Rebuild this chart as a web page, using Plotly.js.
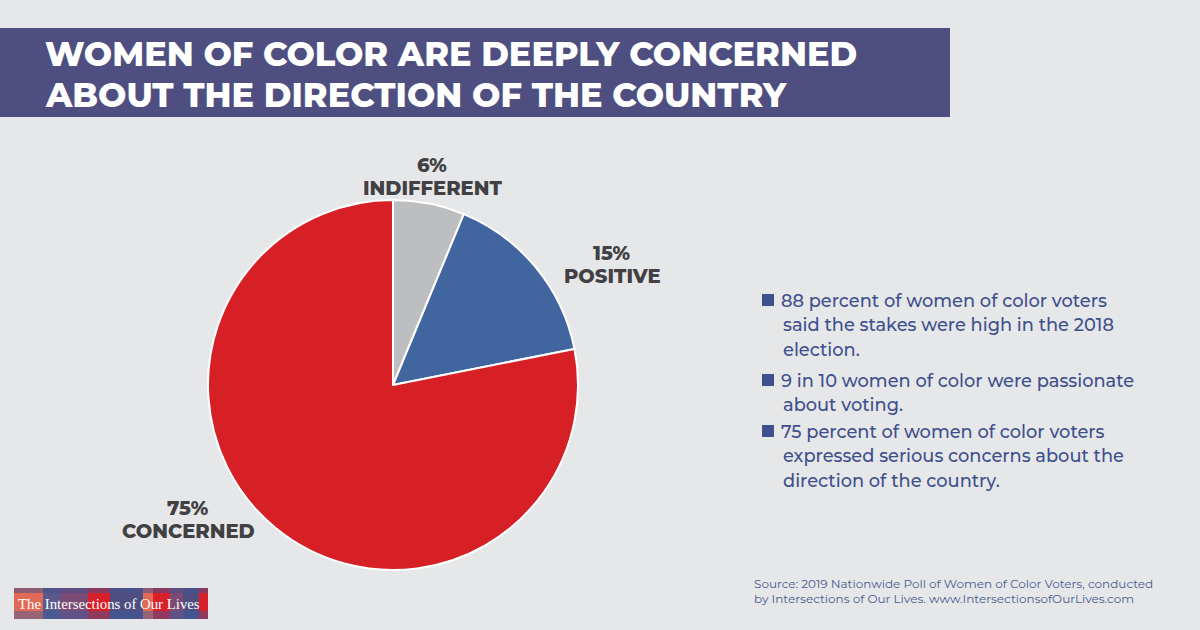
<!DOCTYPE html>
<html>
<head>
<meta charset="utf-8">
<script src="https://cdn.plot.ly/plotly-3.0.1.min.js"></script>
<style>
html,body{margin:0;padding:0;background:#e6e7e8;}
#chart{width:1200px;height:630px;}
</style>
</head>
<body>
<div id="chart"></div>
<script>
const categories = ["INDIFFERENT", "POSITIVE", "CONCERNED"];
const values = [6, 15, 75];
const sliceColors = ["#bcbec0", "#41669f", "#d71f26"];
const titleLines = ["WOMEN OF COLOR ARE DEEPLY CONCERNED", "ABOUT THE DIRECTION OF THE COUNTRY"];
const bullets = [
  ["88 percent of women of color voters", "said the stakes were high in the 2018", "election."],
  ["9 in 10 women of color were passionate", "about voting."],
  ["75 percent of women of color voters", "expressed serious concerns about the", "direction of the country."]
];
const sourceLines = ["Source: 2019 Nationwide Poll of Women of Color Voters, conducted", "by Intersections of Our Lives. www.IntersectionsofOurLives.com"];
const logoText = "The Intersections of Our Lives";

const W = 1200, H = 630;
const px = x => x / W;
const py = y => 1 - y / H;

const trace = {
  type: "pie",
  labels: categories,
  values: values,
  sort: false,
  direction: "clockwise",
  rotation: 0,
  textinfo: "none",
  hoverinfo: "label+percent",
  marker: {colors: sliceColors, line: {color: "#ffffff", width: 2}},
  domain: {x: [px(208), px(578)], y: [py(570), py(200)]},
  showlegend: false
};

const labelFont = {family: "Montserrat, Lato, 'Open Sans', sans-serif", size: 19.5, color: "#414042", weight: 800};
// [x center, y of percent line, y of category line]
const labelPos = [[432, 165, 188], [612, 253, 276], [188, 508, 531]];
const annotations = [];
categories.forEach((c, i) => {
  annotations.push({
    xref: "paper", yref: "paper", x: px(labelPos[i][0]), y: py(labelPos[i][1]),
    text: values[i] + "%", showarrow: false, xanchor: "center", yanchor: "middle", font: labelFont, borderpad: 0
  });
  annotations.push({
    xref: "paper", yref: "paper", x: px(labelPos[i][0]), y: py(labelPos[i][2]),
    text: c, showarrow: false, xanchor: "center", yanchor: "middle", font: labelFont, borderpad: 0
  });
});

// title
const titleY = [54, 95];
titleLines.forEach((t, j) => {
  annotations.push({
    xref: "paper", yref: "paper", x: px(44), y: py(titleY[j]),
    text: t, showarrow: false, align: "left",
    xanchor: "left", yanchor: "middle", borderpad: 0,
    font: {family: "Montserrat, Lato, sans-serif", size: 33.5, color: "#ffffff", weight: 800}
  });
});

// bullets
const bulletStarts = [300, 380, 431];
const lineGap = 24.8;
const shapes = [
  {type: "rect", xref: "paper", yref: "paper", x0: 0, x1: px(950), y0: py(117), y1: py(28), fillcolor: "#4e4f80", line: {width: 0}, layer: "below"}
];
bullets.forEach((b, i) => {
  const y0 = bulletStarts[i];
  shapes.push({type: "rect", xref: "paper", yref: "paper", x0: px(762), x1: px(774), y0: py(y0 + 6), y1: py(y0 - 6), fillcolor: "#3e4f8e", line: {width: 0}});
  b.forEach((line, j) => {
    annotations.push({
      xref: "paper", yref: "paper", x: px(j === 0 ? 780 : 782), y: py(y0 + j * lineGap),
      text: line, showarrow: false, xanchor: "left", yanchor: "middle", align: "left", borderpad: 0,
      font: {family: "Montserrat, 'DejaVu Sans', sans-serif", size: 17.8, color: "#3e4f8e", weight: 500}
    });
  });
});

// source
sourceLines.forEach((s, j) => {
  annotations.push({
    xref: "paper", yref: "paper", x: px(753), y: py(583 + j * 15), borderpad: 0,
    text: s, showarrow: false, xanchor: "left", yanchor: "middle",
    font: {family: "Montserrat, 'DejaVu Sans', sans-serif", size: 12, color: "#4a5a92"}
  });
});

// logo blocks
const logoBlocks = [
  [14, 43, "#e06a56"], [43, 60, "#5a5a8a"], [60, 88, "#7a4b74"], [88, 110, "#d7202a"],
  [110, 143, "#4e4f80"], [143, 153, "#e06a56"], [153, 170, "#d7202a"], [170, 183, "#7a4b74"],
  [183, 199, "#4e4f80"], [199, 208, "#d7202a"]
];
logoBlocks.forEach(b => {
  shapes.push({type: "rect", xref: "paper", yref: "paper", x0: px(b[0]), x1: px(b[1]), y0: py(619), y1: py(588), fillcolor: b[2], line: {width: 0}});
});
shapes.push({type: "rect", xref: "paper", yref: "paper", x0: px(14), x1: px(208), y0: py(593), y1: py(588), fillcolor: "rgba(70,80,140,0.55)", line: {width: 0}});
shapes.push({type: "rect", xref: "paper", yref: "paper", x0: px(14), x1: px(208), y0: py(619), y1: py(611), fillcolor: "rgba(60,90,160,0.45)", line: {width: 0}});
annotations.push({
  xref: "paper", yref: "paper", x: px(17), y: py(604), borderpad: 0,
  text: logoText, showarrow: false, xanchor: "left", yanchor: "middle",
  font: {family: "'Liberation Serif', 'DejaVu Serif', serif", size: 14.8, color: "#ffffff"}
});

const layout = {
  width: W, height: H,
  margin: {l: 0, r: 0, t: 0, b: 0},
  paper_bgcolor: "#e6e7e8",
  plot_bgcolor: "#e6e7e8",
  shapes: shapes,
  annotations: annotations,
  showlegend: false
};

Plotly.newPlot("chart", [trace], layout, {displayModeBar: false, staticPlot: true});
</script>
</body>
</html>
